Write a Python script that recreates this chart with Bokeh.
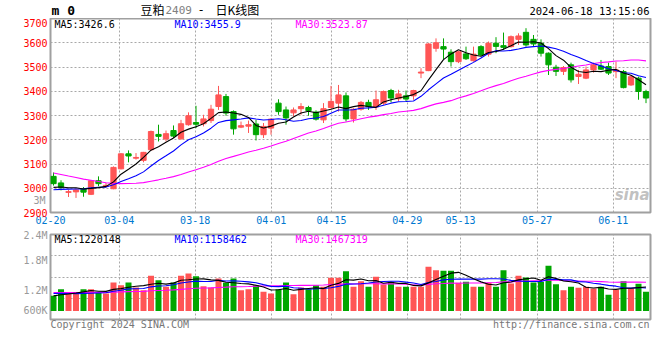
import numpy as np
from bokeh.plotting import figure
from bokeh.layouts import column
from bokeh.models import Range1d, FixedTicker, Label, ColumnDataSource, LinearAxis
from bokeh.embed import file_html
from bokeh.resources import INLINE

# ---------------- data ----------------
tick_labels = ["02-20", "03-04", "03-18", "04-01", "04-15", "04-29", "05-13", "05-27", "06-11"]

opens = [3049, 3022, 2983, 2985, 2997, 2975, 3031, 3008, 2998, 3080,
         3142, 3124, 3115, 3159, 3222, 3203, 3238, 3204, 3262, 3271,
         3266, 3279, 3337, 3378, 3316, 3252, 3256, 3265, 3221, 3248,
         3351, 3323, 3311, 3328, 3333, 3314, 3282, 3333, 3351, 3381,
         3286, 3326, 3354, 3335, 3351, 3403, 3369, 3381, 3381, 3475,
         3485, 3577, 3584, 3561, 3522, 3554, 3526, 3584, 3553, 3598,
         3588, 3584, 3614, 3643, 3614, 3598, 3557, 3499, 3482, 3509,
         3461, 3454, 3488, 3504, 3502, 3481, 3481, 3426, 3454, 3399]
highs = [3065, 3033, 2994, 2996, 3005, 3033, 3049, 3022, 3090, 3145,
         3156, 3145, 3150, 3238, 3262, 3238, 3259, 3282, 3313, 3340,
         3303, 3344, 3422, 3389, 3321, 3275, 3279, 3282, 3269, 3289,
         3367, 3337, 3333, 3351, 3340, 3321, 3351, 3422, 3426, 3395,
         3330, 3360, 3365, 3403, 3403, 3410, 3406, 3403, 3406, 3495,
         3598, 3618, 3618, 3573, 3566, 3584, 3584, 3590, 3605, 3623,
         3642, 3630, 3639, 3660, 3632, 3614, 3560, 3509, 3504, 3518,
         3488, 3502, 3518, 3529, 3518, 3522, 3488, 3466, 3460, 3406]
lows = [3011, 2991, 2964, 2960, 2965, 2972, 3008, 3002, 2996, 3078,
        3107, 3118, 3107, 3155, 3193, 3193, 3207, 3200, 3258, 3248,
        3255, 3269, 3323, 3299, 3221, 3248, 3228, 3197, 3207, 3221,
        3303, 3262, 3296, 3303, 3299, 3279, 3269, 3328, 3316, 3275,
        3271, 3320, 3323, 3323, 3344, 3354, 3358, 3358, 3365, 3454,
        3483, 3563, 3532, 3502, 3516, 3529, 3522, 3545, 3543, 3557,
        3570, 3580, 3591, 3584, 3584, 3543, 3467, 3463, 3467, 3436,
        3430, 3450, 3477, 3488, 3467, 3454, 3412, 3422, 3365, 3351]
closes = [3019, 3004, 2986, 2993, 2984, 3031, 3019, 3012, 3086, 3142,
          3133, 3127, 3148, 3234, 3214, 3225, 3215, 3266, 3299, 3264,
          3286, 3326, 3385, 3310, 3245, 3258, 3262, 3221, 3255, 3285,
          3316, 3290, 3323, 3337, 3320, 3285, 3328, 3358, 3385, 3286,
          3326, 3354, 3336, 3365, 3399, 3372, 3389, 3368, 3403, 3479,
          3595, 3600, 3574, 3522, 3563, 3534, 3553, 3550, 3598, 3585,
          3581, 3625, 3628, 3591, 3595, 3557, 3509, 3482, 3498, 3447,
          3470, 3488, 3509, 3491, 3475, 3488, 3415, 3460, 3399, 3372]
volumes = [773, 1115, 944, 944, 1115, 1115, 944, 893, 1458, 1321,
           1458, 1201, 1064, 1801, 1578, 1235, 1458, 1801, 1921, 1784,
           1270, 1201, 1664, 1441, 1664, 1064, 1115, 1321, 978, 893,
           1115, 1458, 858, 1201, 1115, 1321, 1235, 1698, 1698, 2041,
           1235, 1527, 1235, 1749, 1355, 1492, 1235, 1235, 1235, 1235,
           2263, 2092, 2058, 2058, 1441, 1492, 1235, 1235, 1441, 1235,
           2092, 1407, 1801, 1715, 1458, 1492, 2315, 1372, 1064, 1235,
           1184, 1235, 1150, 1235, 824, 1098, 1527, 1150, 1390, 978]  # thousand lots

# sessions before the window (estimated so that the averages start where the picture shows)
close_before = [3188, 3180, 3176, 3182, 3170, 3168, 3175, 3166, 3172,
                3120, 3096, 3070, 3058, 3041, 3030, 3012, 3005, 2998, 2972, 2971,
                2990, 2978, 2985, 2980, 2988, 2996, 3004, 2992, 3008]
volume_before = [1010, 950, 1080, 920, 990, 1050, 900, 970, 1020, 940,
                 1000, 960, 930, 1010, 890, 980, 950, 1000, 920, 920,
                 1050, 980, 1020, 990, 1025, 820, 760, 700, 812]

ma_text = ["MA5:3426.6", "MA10:3455.9", "MA30:3523.87"]
vma_text = ["MA5:1220148", "MA10:1158462", "MA30:1467319"]
vol_tick_labels = ["600K", "1.2M", "1.8M", "2.4M"]
footer_texts = ["Copyright 2024 SINA.COM", "http://finance.sina.com.cn"]

# ---------------- derived ----------------
n = len(closes)
xs = np.arange(n) + 0.4
RED, GREEN = "#FF5555", "#00A600"
colors = [RED if c >= o else GREEN for o, c in zip(opens, closes)]


def moving_avg(series, pre, k):
    full = np.array(pre + series, dtype=float)
    off = len(pre)
    return [full[off + i - k + 1: off + i + 1].mean() for i in range(len(series))]


vol_units = [v * 1000 for v in volumes]
vol_pre = [v * 1000 for v in volume_before]

src = ColumnDataSource(dict(
    x=xs, open=opens, high=highs, low=lows, close=closes,
    top=np.maximum(opens, closes), bottom=np.minimum(opens, closes),
    vol=vol_units, color=colors,
    ma5=moving_avg(closes, close_before, 5),
    ma10=moving_avg(closes, close_before, 10),
    ma30=moving_avg(closes, close_before, 30),
    vma5=moving_avg(vol_units, vol_pre, 5),
    vma10=moving_avg(vol_units, vol_pre, 10),
    vma30=moving_avg(vol_units, vol_pre, 30),
))

# ---------------- layout constants ----------------
MONO = "DejaVu Sans Mono"
CJK = "Noto Sans CJK SC"
GRID = "#A8A8A8"
BORDER = "#A0A0A0"
tick_at = [0, 9.16, 19.29, 29.43, 37.47, 47.56, 54.67, 64.89, 75.03]
footer_at = [9.24, 69.43]
LEFT, RIGHT = 50, 2


def lab(p, x, y, text, color="#000000", size="10px", font=MONO, align="left", style="normal",
        alpha=1.0, units="screen"):
    p.add_layout(Label(x=x, y=y, x_units=units, y_units=units, text=text, text_color=color,
                       text_font=font, text_font_size=size, text_align=align, text_baseline="middle",
                       text_font_style=style, text_alpha=alpha))


def plain_axis(ax, color, standoff=3):
    ax.axis_line_color = None
    ax.major_tick_line_color = None
    ax.minor_tick_line_color = None
    ax.major_tick_out = 0
    ax.major_tick_in = 0
    ax.minor_tick_out = 0
    ax.minor_tick_in = 0
    ax.major_label_text_color = color
    ax.major_label_text_font = MONO
    ax.major_label_text_font_size = "10px"
    ax.major_label_standoff = standoff


# ---------------- header strip ----------------
hdr = figure(frame_width=600, frame_height=18, x_range=Range1d(0, 600), y_range=Range1d(0, 18),
             output_backend="svg", toolbar_location=None, title=None,
             x_axis_location=None, y_axis_location=None,
             min_border_left=LEFT, min_border_right=RIGHT, min_border_top=0, min_border_bottom=0)
hdr.outline_line_color = None
hdr.grid.visible = False
lab(hdr, 1, 8.5, "m 0", size="13px", style="bold", units="data")
lab(hdr, 90, 9, "豆粕", size="12px", font=CJK, units="data")
lab(hdr, 115, 8.5, "2409", color="#808080", size="11px", units="data")
lab(hdr, 147, 9, "-", size="12px", units="data")
lab(hdr, 165, 9, "日K线图", size="12px", font=CJK, units="data")
lab(hdr, 599, 8, "2024-06-18 13:15:06", align="right", size="10.5px", units="data")

# ---------------- main (candles) ----------------
p1 = figure(frame_width=600, frame_height=194, x_range=Range1d(0, 80), y_range=Range1d(2900, 3700),
            output_backend="svg", toolbar_location=None, title=None,
            min_border_left=LEFT, min_border_right=RIGHT, min_border_top=0, min_border_bottom=16)
p1.outline_line_color = BORDER
p1.outline_line_width = 2

p1.yaxis.ticker = FixedTicker(ticks=list(range(2900, 3701, 100)))
p1.xaxis.ticker = FixedTicker(ticks=tick_at)
p1.xaxis.major_label_overrides = {t: s for t, s in zip(tick_at, tick_labels)}
plain_axis(p1.yaxis[0], "#FF0000")
plain_axis(p1.xaxis[0], "#0078D0")
p1.grid.grid_line_color = GRID
p1.grid.grid_line_dash = "2 2"
p1.grid.grid_line_width = 1

# grey "3M" mark in the left margin (second axis pulled back beside the price labels)
ax3m = LinearAxis(ticker=FixedTicker(ticks=[2950]), major_label_overrides={2950: "3M"})
plain_axis(ax3m, "#999999", standoff=-25)
p1.add_layout(ax3m, "left")

p1.segment(x0="x", y0="low", x1="x", y1="high", color="color", line_width=1, source=src)
p1.vbar(x="x", width=0.7, top="top", bottom="bottom", fill_color="color", line_color="color",
        line_width=1, source=src)
p1.line("x", "ma30", color="#FF00FF", line_width=1.1, source=src)
p1.line("x", "ma10", color="#0000FF", line_width=1.1, source=src)
p1.line("x", "ma5", color="#000000", line_width=1.1, source=src)

lab(p1, 4, 188, ma_text[0])
lab(p1, 124, 188, ma_text[1], color="#0000FF")
lab(p1, 245, 188, ma_text[2], color="#FF00FF")
lab(p1, 599, 18, "sina", color="#B0B0B0", size="15px", font="DejaVu Sans", align="right",
    style="bold italic", alpha=0.8)

# ---------------- volume ----------------
p2 = figure(frame_width=600, frame_height=85, x_range=p1.x_range, y_range=Range1d(-442000, 3927000),
            output_backend="svg", toolbar_location=None, title=None,
            min_border_left=LEFT, min_border_right=RIGHT, min_border_top=6, min_border_bottom=18)
p2.outline_line_color = BORDER
p2.outline_line_width = 2
vticks = [36000, 1028000, 2570000, 3900000]
p2.yaxis.ticker = FixedTicker(ticks=vticks)
p2.yaxis.major_label_overrides = dict(zip(vticks, vol_tick_labels))
plain_axis(p2.yaxis[0], "#999999")
p2.xaxis.ticker = FixedTicker(ticks=footer_at)
p2.xaxis.major_label_overrides = dict(zip(footer_at, footer_texts))
plain_axis(p2.xaxis[0], "#777777", standoff=-1)
p2.xgrid.ticker = FixedTicker(ticks=tick_at)
p2.ygrid.ticker = FixedTicker(ticks=[650250, 1742500, 2834750])
p2.grid.grid_line_color = GRID
p2.grid.grid_line_dash = "2 2"

p2.vbar(x="x", width=0.8, top="vol", bottom=0, fill_color="color", line_color=None, source=src)
p2.line("x", "vma30", color="#FF00FF", line_width=1.1, source=src)
p2.line("x", "vma10", color="#0000FF", line_width=1.1, source=src)
p2.line("x", "vma5", color="#000000", line_width=1.1, source=src)

lab(p2, 4, 80.5, vma_text[0])
lab(p2, 124, 80.5, vma_text[1], color="#0000FF")
lab(p2, 245, 80.5, vma_text[2], color="#FF00FF")

layout = column(hdr, p1, p2, spacing=0)
open("out.html", "w").write(file_html(layout, INLINE))
